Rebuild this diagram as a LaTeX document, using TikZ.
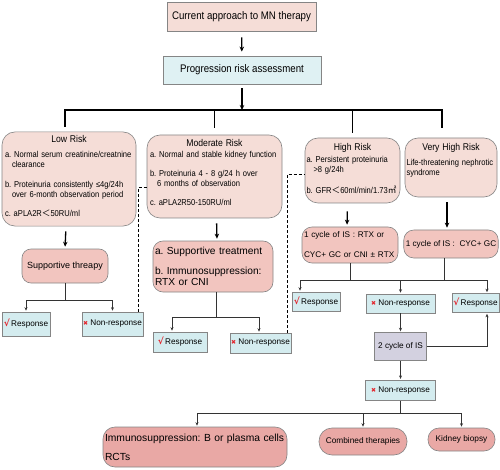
\documentclass[tikz,border=0pt]{standalone}
\usepackage{fontspec}
\setmainfont{Liberation Sans}
\newfontfamily\narrowfont[FakeStretch=0.88]{Liberation Sans}
\newfontfamily\symbfont{DejaVu Sans}
\newfontfamily\cjkfont{Noto Sans CJK SC}
\usepackage{tikz}
\usetikzlibrary{
  positioning,
  arrows.meta
}
\definecolor{riskpink}{HTML}{F5DDD7}
\definecolor{treatpink}{HTML}{F2C5BF}
\definecolor{deeppink}{HTML}{E9A8A5}
\definecolor{paleblue}{HTML}{D4ECEF}
\definecolor{lavender}{HTML}{D3D1E0}
\definecolor{edgegray}{HTML}{858585}
\definecolor{markred}{HTML}{E3262D}
\newcommand{\okmark}{{\symbfont\bfseries\fontsize{9}{9}\selectfont\color{markred}√}}
\newcommand{\failmark}{{\symbfont\fontsize{6}{6}\selectfont\color{markred}✖}}
\newcommand{\fwless}{{\cjkfont ＜}}
\newcommand{\sqmetre}{{\cjkfont ㎡}}
\newcommand{\riskttl}{\fontsize{9.8}{12}\selectfont}
\newcommand{\padbelow}[1]{\rule[-#1]{0pt}{0pt}}
\tikzset{headbox/.style={
  draw=edgegray, line width=.8pt,
  inner sep=0pt,
  font=\narrowfont\fontsize{11}{13}\selectfont
}}
\tikzset{riskbox/.style={
  draw=edgegray, line width=.6pt,
  fill=riskpink,
  rounded corners=13pt,
  align=left, inner xsep=3pt, inner ysep=3pt,
  font=\narrowfont\fontsize{8.6}{10}\selectfont
}}
\tikzset{therapy/.style={
  draw=edgegray, line width=.6pt,
  fill=treatpink,
  rounded corners=9pt,
  align=left, inner sep=2pt,
  font=\fontsize{8.2}{10}\selectfont
}}
\tikzset{outcome/.style={
  draw=edgegray, line width=.6pt,
  fill=paleblue,
  inner sep=1pt,
  font=\fontsize{8.2}{10}\selectfont
}}
\tikzset{finalbox/.style={
  draw=edgegray, line width=.6pt,
  fill=deeppink,
  rounded corners=12pt,
  inner sep=2pt,
  font=\fontsize{8.3}{10}\selectfont
}}
\tikzset{trunk/.style={line width=1.3pt}}
\tikzset{mainarrow/.style={
  line width=1.3pt,
  -{Stealth[length=5pt,width=4.5pt]},
  shorten <=5pt, shorten >=2pt
}}
\tikzset{link/.style={draw=black!80, line width=.7pt}}
\tikzset{linkarrow/.style={
  link,
  -{Stealth[length=3.5pt,width=3pt]},
  shorten >=1pt
}}
\tikzset{jump/.style={line width=.7pt, dash pattern=on 3pt off 2pt}}
\begin{document}
\frenchspacing
\begin{tikzpicture}[x=1pt, y=-1pt]
\useasboundingbox (0,0) rectangle (500,470);

\node [headbox, fill=riskpink, minimum width=149pt, minimum height=29pt] (top) at (241.5,16.5) {Current approach to MN therapy};
\node [headbox, fill=paleblue!75!white, minimum width=158pt, minimum height=28pt] (prog) at (242,70) {Progression risk assessment};
\coordinate (bar) at (242,110);

\node [riskbox, text width=128pt, minimum height=92pt] (low) at (69,179) {%
  {\centering\riskttl Low Risk\par}\vspace{5pt}
  a. Normal serum creatinine/creatnine\\
  \hspace*{7pt}clearance\\[10pt]
  b. Proteinuria consistently ≤4g/24h\\
  \hspace*{7pt}over 6-month observation period\\[9pt]
  c. aPLA2R\fwless50RU/ml\padbelow{7pt}};
\node [riskbox, text width=129pt, minimum height=83pt] (mod) at (214.5,176.5) {%
  {\centering\riskttl Moderate Risk\par}\vspace{1pt}
  a. Normal and stable kidney function\\[9pt]
  b. Proteinuria 4 - 8 g/24 h over\\
  \hspace*{7pt}6 months of observation\\[9pt]
  c. aPLA2R50-150RU/ml\padbelow{8pt}};
\node [riskbox, text width=92pt, inner xsep=1.5pt, minimum height=65pt] (high) at (352.5,170.5) {%
  {\centering\riskttl High Risk\par}\vspace{2.5pt}
  a. Persistent proteinuria\\
  \hspace*{7pt}>8 g/24h\\[10.5pt]
  \mbox{b. GFR\fwless60ml/min/1.73\sqmetre}\padbelow{5pt}};
\node [riskbox, text width=89pt, inner xsep=1.5pt, minimum height=59pt] (vhigh) at (451,167.5) {%
  {\centering\riskttl Very High Risk\par}\vspace{5pt}
  \mbox{Life-threatening nephrotic}\\
  syndrome\padbelow{17pt}};

\node [therapy, align=center, minimum width=86pt, minimum height=34pt, font=\fontsize{9}{11}\selectfont] (sup) at (65,266) {Supportive threapy};
\node [therapy, text width=116pt, minimum height=51pt, rounded corners=10pt, font=\fontsize{10.2}{10.5}\selectfont] (treat) at (213,266.5) {%
  a. Supportive treatment\\[9.5pt]
  b. Immunosuppression:\\
  RTX or CNI};
\node [therapy, text width=92pt, minimum height=36pt, rounded corners=10pt] (cyc) at (350,245) {%
  1 cycle of IS : RTX or\\[10pt]
  CYC+ GC or CNI ± RTX};
\node [therapy, align=center, minimum width=94pt, minimum height=28pt, rounded corners=10pt] (cyc2) at (451,244) {1 cycle of IS :\ \ CYC+ GC};

\node [outcome, minimum width=48pt, minimum height=24pt] (resp1) at (26,324) {\okmark\,Response};
\node [outcome, minimum width=61pt, minimum height=24pt] (nr1) at (112.5,324) {\failmark\ Non-response};
\node [outcome, minimum width=54pt, minimum height=20pt] (resp2) at (180,342) {\okmark\,Response};
\node [outcome, minimum width=61pt, minimum height=20pt] (nr2) at (260.5,343) {\failmark\ Non-response};
\node [outcome, minimum width=48pt, minimum height=19pt] (resp3) at (316,301.5) {\okmark\,Response};
\node [outcome, minimum width=69pt, minimum height=19pt] (nr3) at (400.5,303.5) {\failmark\ Non-response};
\node [outcome, minimum width=47pt, minimum height=19pt] (resp4) at (475.5,303) {\okmark\,Response};
\node [outcome, fill=lavender, minimum width=52pt, minimum height=28pt, below=19pt of nr3] (cyc3) {2 cycle of IS};
\node [outcome, minimum width=70pt, minimum height=20pt, below=19pt of cyc3] (nr4) {\failmark\ Non-response};

\node [finalbox, align=left, text width=180pt, minimum height=40pt, inner xsep=2pt, font=\fontsize{10.3}{11}\selectfont] (imm) at (195,447) {%
  Immunosuppression: B or plasma cells\\[8pt]
  RCTs};
\node [finalbox, minimum width=88pt, minimum height=27pt, rounded corners=13pt] (comb) at (363,441.5) {Combined therapies};
\node [finalbox, minimum width=67pt, minimum height=23pt, rounded corners=11pt] (kid) at (461.5,439.5) {Kidney biopsy};

\draw [mainarrow, shorten <=6pt, shorten >=4pt] (top) -- (prog);
\draw [mainarrow, shorten <=4pt, shorten >=0pt] (prog.south) -- (prog.south |- bar);
\draw [trunk] ([xshift=-4pt,yshift=5pt]low.north) |- (bar) -| ([xshift=-9pt,yshift=10pt]vhigh.north);
\draw [trunk] (bar -| mod.north) -- ([yshift=7pt]mod.north);
\draw [trunk] (bar -| high.north) -- ([yshift=5pt]high.north);

\draw [mainarrow] ([xshift=-3pt]low.south) -- (sup.north);
\draw [mainarrow] ([xshift=2pt]mod.south) -- ([xshift=4pt]treat.north);
\draw [mainarrow, shorten <=8pt] ([xshift=-5pt]high.south) -- ([xshift=-3pt]cyc.north);
\draw [mainarrow] ([xshift=-4pt]vhigh.south) -- ([xshift=-4pt]cyc2.north);

\draw [linkarrow] (sup.south) -- ++(0,17) -| (resp1.north);
\draw [linkarrow] (sup.south) ++(0,17) -| (nr1.north);
\draw [linkarrow] ([xshift=3pt]treat.south) -- ++(0,25) -| ([xshift=-8pt]resp2.north);
\draw [linkarrow] ([xshift=3pt]treat.south) ++(0,25) -| ([xshift=-1.5pt]nr2.north);

\coordinate [below=17pt of cyc.south] (hbar);
\coordinate (r3in) at ([xshift=-16pt]resp3.north);
\coordinate (r4in) at ([xshift=11.5pt]resp4.north);
\coordinate (r4out) at ([xshift=11.5pt]resp4.south);
\draw [linkarrow] (cyc.south) -- (hbar) -| (r3in);
\draw [linkarrow] (hbar) -| (r4in);
\draw [link] ([xshift=-7pt]cyc2.south) -- ([xshift=-7pt]cyc2.south |- hbar);
\draw [linkarrow] (nr3.north |- hbar) -- (nr3.north);
\draw [linkarrow] (nr3) -- (cyc3);
\draw [linkarrow] (cyc3.east) -| (r4out);
\draw [linkarrow] (cyc3) -- (nr4);

\coordinate [below=13pt of nr4.south] (fbar);
\draw [linkarrow] (nr4.south) -- (fbar) -| ([xshift=2pt]imm.north);
\draw [linkarrow] (fbar) -| (kid.north);
\draw [linkarrow] (comb.north |- fbar) -- (comb.north);

\draw [jump] ([xshift=-5pt]nr1.north east) |- ([yshift=-10.5pt]mod.west);
\draw [jump] ([xshift=-4pt]nr2.north east) |- ([yshift=-3.5pt]high.west);
\end{tikzpicture}
\end{document}
